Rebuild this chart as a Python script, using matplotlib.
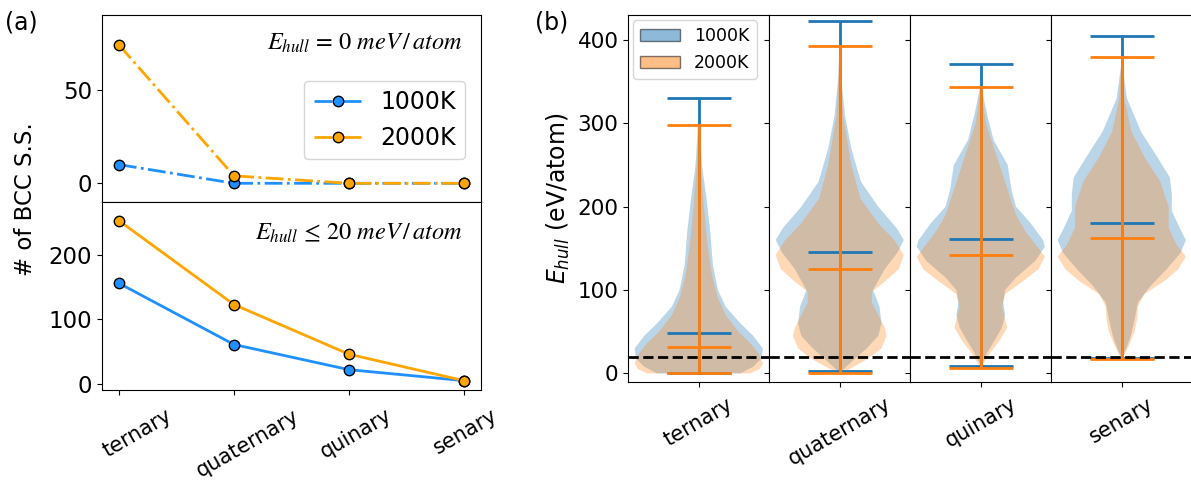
import numpy as np
import matplotlib
matplotlib.use('Agg')
import matplotlib.pyplot as plt
import matplotlib.patches as mpatches

# ---- panel (a): number of BCC solid solutions ----
categories = ['ternary', 'quaternary', 'quinary', 'senary']
n0_1000 = [10, 0, 0, 0]        # E_hull = 0 meV/atom
n0_2000 = [74, 4, 0, 0]
n20_1000 = [156, 61, 22, 5]    # E_hull <= 20 meV/atom
n20_2000 = [253, 123, 46, 5]

# ---- panel (b): E_hull distributions (min / mean / max) ----
min_1000 = [0, 3, 9, 18]
mean_1000 = [49, 146, 161, 180]
max_1000 = [330, 423, 371, 405]
min_2000 = [0, 0, 7, 17]
mean_2000 = [32, 125, 142, 163]
max_2000 = [298, 393, 343, 380]

# violin outlines: E levels and relative half-width
ter_1000_y = [0, 8, 18, 30, 45, 60, 80, 100, 130, 170, 210, 250, 290, 330]
ter_1000_w = [0.65, 0.85, 0.98, 1.0, 0.85, 0.65, 0.42, 0.30, 0.22, 0.18, 0.12, 0.05, 0.02, 0]
ter_2000_y = [0, 5, 12, 22, 35, 50, 70, 90, 120, 160, 200, 250, 298]
ter_2000_w = [0.8, 0.95, 1.0, 0.95, 0.82, 0.62, 0.42, 0.30, 0.20, 0.13, 0.08, 0.03, 0]
qua_1000_y = [3, 15, 30, 45, 60, 80, 100, 125, 145, 160, 175, 200, 230, 270, 310, 350, 380, 423]
qua_1000_w = [0.03, 0.2, 0.42, 0.6, 0.65, 0.62, 0.52, 0.7, 0.9, 1.0, 0.88, 0.6, 0.33, 0.18, 0.08, 0.03, 0.01, 0]
qua_2000_y = [0, 8, 18, 30, 45, 55, 70, 85, 98, 110, 125, 142, 160, 180, 210, 250, 310, 370, 393]
qua_2000_w = [0.02, 0.22, 0.45, 0.65, 0.73, 0.7, 0.6, 0.5, 0.5, 0.7, 0.92, 1.0, 0.85, 0.6, 0.32, 0.18, 0.05, 0.01, 0]
qui_1000_y = [9, 25, 40, 55, 70, 85, 100, 115, 135, 152, 160, 180, 200, 220, 250, 280, 310, 340, 371]
qui_1000_w = [0, 0.1, 0.22, 0.33, 0.38, 0.35, 0.38, 0.55, 0.85, 1.0, 0.97, 0.78, 0.55, 0.48, 0.42, 0.2, 0.1, 0.02, 0]
qui_2000_y = [7, 25, 40, 55, 65, 80, 95, 110, 125, 140, 155, 170, 190, 220, 260, 300, 343]
qui_2000_w = [0, 0.15, 0.3, 0.41, 0.38, 0.33, 0.38, 0.65, 0.9, 1.0, 0.85, 0.7, 0.55, 0.42, 0.25, 0.08, 0]
sen_1000_y = [18, 30, 45, 65, 85, 105, 125, 145, 160, 175, 195, 215, 235, 260, 290, 330, 370, 405]
sen_1000_w = [0, 0.07, 0.14, 0.2, 0.25, 0.45, 0.7, 0.92, 1.0, 0.9, 0.78, 0.78, 0.75, 0.55, 0.3, 0.08, 0.01, 0]
sen_2000_y = [17, 25, 35, 50, 65, 80, 95, 110, 125, 140, 155, 175, 200, 230, 260, 290, 330, 380]
sen_2000_w = [0, 0.06, 0.12, 0.2, 0.24, 0.25, 0.35, 0.65, 0.88, 1.0, 0.85, 0.73, 0.73, 0.6, 0.35, 0.15, 0.04, 0]

profiles_1000 = [(ter_1000_y, ter_1000_w), (qua_1000_y, qua_1000_w),
                 (qui_1000_y, qui_1000_w), (sen_1000_y, sen_1000_w)]
profiles_2000 = [(ter_2000_y, ter_2000_w), (qua_2000_y, qua_2000_w),
                 (qui_2000_y, qui_2000_w), (sen_2000_y, sen_2000_w)]

blue, orange = 'dodgerblue', 'orange'
label_shift = [0.165, 0.12, 0.06, 0.01]   # the x labels of (a) sit a bit right of their ticks

fig = plt.figure(figsize=(11.91, 4.91), dpi=100)

# ===================== (a) =====================
ax_t = fig.add_axes([0.0854, 0.5886, 0.3185, 0.3809])
ax_b = fig.add_axes([0.0854, 0.2051, 0.3185, 0.3835], sharex=ax_t)
x = np.arange(len(categories))

ax_t.plot(x, n0_1000, '-.o', color=blue, mec='k', ms=7.5, lw=2, label='1000K')
ax_t.plot(x, n0_2000, '-.o', color=orange, mec='k', ms=7.5, lw=2, label='2000K')
ax_b.plot(x, n20_1000, '-o', color=blue, mec='k', ms=7.5, lw=2)
ax_b.plot(x, n20_2000, '-o', color=orange, mec='k', ms=7.5, lw=2)

ax_t.set_ylim(-10, 90)
ax_t.set_yticks([0, 50])
ax_b.set_ylim(-10, 282)
ax_b.set_yticks([0, 100, 200])
ax_t.tick_params(axis='x', which='both', bottom=False, labelbottom=False)
ax_t.tick_params(axis='y', labelsize=16.5)
ax_b.tick_params(axis='y', labelsize=16.5)

ax_b.set_xticks(x)
ax_b.set_xticklabels([])
ax_b.set_xticks(x + np.array(label_shift), categories, minor=True, rotation=30, ha='center')
ax_b.tick_params(axis='x', which='minor', length=0, pad=11, labelsize=15)
ax_t.tick_params(axis='x', which='minor', bottom=False, labelbottom=False)

ax_t.legend(loc='upper right', bbox_to_anchor=(0.958, 0.649), borderaxespad=0,
            fontsize=17)
ax_t.text(0.952, 0.813, r'$E_{hull}\,=\,0\ meV\,/\,atom$', transform=ax_t.transAxes,
          ha='right', va='baseline', fontsize=17.5, math_fontfamily='stix')
ax_b.text(0.952, 0.802, r'$E_{hull}\,\leq\,20\ meV\,/\,atom$', transform=ax_b.transAxes,
          ha='right', va='baseline', fontsize=17.5, math_fontfamily='stix')

fig.text(0.021, 0.595, '# of BCC S.S.', rotation=90, ha='center', va='center', fontsize=16.5)
fig.text(0.004, 0.954, '(a)', ha='left', va='center', fontsize=17)
fig.text(0.449, 0.954, '(b)', ha='left', va='center', fontsize=17)

# ===================== (b) =====================
lefts = [0.5275, 0.6459, 0.7643, 0.8827]
axes_r = []
for i, cat in enumerate(categories):
    ax = fig.add_axes([lefts[i], 0.2226, 0.1184, 0.7469],
                      sharey=axes_r[0] if axes_r else None)
    axes_r.append(ax)
    runs = [
        (profiles_1000[i], min_1000[i], mean_1000[i], max_1000[i], 'C0'),
        (profiles_2000[i], min_2000[i], mean_2000[i], max_2000[i], 'C1'),
    ]
    for (yy, ww), lo, mu, hi, col in runs:
        st = dict(coords=yy, vals=ww, mean=mu, median=mu, min=lo, max=hi)
        parts = ax.violin([st], positions=[1], widths=0.5, showmeans=True, showextrema=True)
        for body in parts['bodies']:
            body.set_facecolor(col)
            body.set_edgecolor('none')
            body.set_alpha(0.3)
        for key in ('cmaxes', 'cmins', 'cbars', 'cmeans'):
            parts[key].set_color(col)
            parts[key].set_linewidth(2)
    ax.axhline(20, color='k', ls='--', lw=2)
    ax.set_xticks([1], [cat], rotation=30, ha='center', fontsize=15)
    ax.tick_params(axis='x', pad=5.5)
    if i > 0:
        ax.tick_params(axis='y', labelleft=False)

axes_r[0].set_ylim(-10, 430)
axes_r[0].set_yticks([0, 100, 200, 300, 400])
axes_r[0].tick_params(axis='y', labelsize=15.5)
axes_r[0].set_ylabel(r'$E_{hull}$ (eV/atom)', fontsize=17)

handles = [mpatches.Patch(facecolor='C0', edgecolor='k', alpha=0.5),
           mpatches.Patch(facecolor='C1', edgecolor='k', alpha=0.5)]
axes_r[0].legend(handles, ['1000K', '2000K'], loc='upper left', fontsize=12.5,
                 handlelength=2.3, borderaxespad=0.3)

fig.savefig('out.png', dpi=100)
